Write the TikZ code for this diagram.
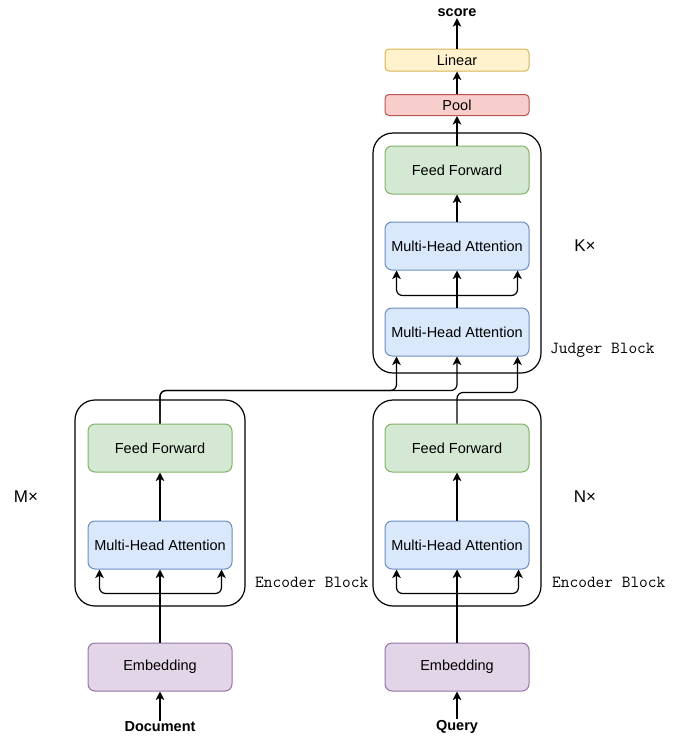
\documentclass[tikz,border=0pt]{standalone}
\usepackage{fontspec}
\setmainfont{Liberation Sans}
\usetikzlibrary{arrows.meta,calc}
\definecolor{gfill}{HTML}{D5E8D4}\definecolor{gline}{HTML}{82B366}
\definecolor{bfill}{HTML}{DAE8FC}\definecolor{bline}{HTML}{6C8EBF}
\definecolor{pfill}{HTML}{E1D5E7}\definecolor{pline}{HTML}{9673A6}
\definecolor{rfill}{HTML}{F8CECC}\definecolor{rline}{HTML}{B85450}
\definecolor{yfill}{HTML}{FFF2CC}\definecolor{yline}{HTML}{D6B656}
\tikzset{
  txt/.style={font=\fontsize{14.5}{16}\selectfont},
  blk/.style={txt,draw,line width=1pt,rounded corners=7pt,minimum width=144pt,minimum height=48pt,inner sep=0pt},
  ffbox/.style={blk,fill=gfill,draw=gline},
  mhabox/.style={blk,fill=bfill,draw=bline},
  embbox/.style={blk,fill=pfill,draw=pline},
  thinbox/.style={txt,draw,line width=1pt,rounded corners=4pt,minimum width=144pt,inner sep=0pt},
  poolbox/.style={thinbox,fill=rfill,draw=rline,minimum height=21pt},
  linbox/.style={thinbox,fill=yfill,draw=yline,minimum height=22pt},
  outer/.style={draw,line width=1.2pt,rounded corners=20pt,inner sep=0pt},
  arr/.style={line width=1.2pt,-{Stealth[length=8.5pt,width=8.5pt,inset=2.2pt]}},
  io/.style={font=\fontsize{14.5}{16}\selectfont\bfseries,inner sep=1pt},
  blabel/.style={font=\fontsize{16.9}{18}\selectfont\ttfamily,anchor=west,inner sep=0pt},
  times/.style={font=\fontsize{17}{19}\selectfont,inner sep=0pt},
}
\begin{document}
\begin{tikzpicture}[x=1pt,y=-1pt]
\useasboundingbox (0,0) rectangle (676,736);
% outer blocks
\node[outer,minimum width=170pt,minimum height=206pt] (lenc) at (160,503) {};
\node[outer,minimum width=168pt,minimum height=206pt] (renc) at (457,503) {};
\node[outer,minimum width=168pt,minimum height=240pt] (jud) at (457,253) {};
% left encoder
\node[ffbox] (lff) at (160,448) {Feed Forward};
\node[mhabox] (lmha) at (160,545) {Multi-Head Attention};
\node[embbox] (lemb) at (160,667) {Embedding};
\node[io] (doc) at (160,727) {Document};
% right encoder
\node[ffbox] (rff) at (457,448) {Feed Forward};
\node[mhabox] (rmha) at (457,545) {Multi-Head Attention};
\node[embbox] (remb) at (457,667) {Embedding};
\node[io] (query) at (457,727) {Query};
% judger
\node[ffbox] (jff) at (457,170) {Feed Forward};
\node[mhabox] (jmhb) at (457,246) {Multi-Head Attention};
\node[mhabox] (jmha) at (457,332) {Multi-Head Attention};
\node[poolbox] (pool) at (457,105) {Pool};
\node[linbox] (lin) at (457,60) {Linear};
\node[io] (score) at (457,13) {score};
% labels
\node[times] (mx) at (26,497) {M×};
\node[times] (nx) at (585,497) {N×};
\node[times] (kx) at (585,246) {K×};
\node[blabel] (lbl1) at (255,582) {Encoder Block};
\node[blabel] (lbl2) at (552,582) {Encoder Block};
\node[blabel] (lbl3) at (550,350) {Judger Block};
% left encoder connectors
\draw[arr] (doc.north) -- (lemb.south);
\draw[arr] (lemb.north) -- (lmha.south);
\draw[arr,rounded corners=6pt] ($(lmha.south)+(0,24)$) -| ($(lmha.south west)+(12,0)$);
\draw[arr,rounded corners=6pt] ($(lmha.south)+(0,24)$) -| ($(lmha.south east)+(-11,0)$);
\draw[arr] (lmha.north) -- (lff.south);
% right encoder connectors
\draw[arr] (query.north) -- (remb.south);
\draw[arr] (remb.north) -- (rmha.south);
\draw[arr,rounded corners=6pt] ($(rmha.south)+(0,24)$) -| ($(rmha.south west)+(12,0)$);
\draw[arr,rounded corners=6pt] ($(rmha.south)+(0,24)$) -| ($(rmha.south east)+(-11,0)$);
\draw[arr] (rmha.north) -- (rff.south);
% encoders to judger
\draw[arr,rounded corners=6pt] (lff.north) |- ($(jmha.south west)+(12,34)$) -- ($(jmha.south west)+(12,0)$);
\draw[arr,rounded corners=6pt] (lff.north) |- ($(jmha.south)+(0,34)$) -- (jmha.south);
\draw[arr,rounded corners=6pt] (rff.north) |- ($(jmha.south east)+(-12,36)$) -- ($(jmha.south east)+(-12,0)$);
% judger internals
\draw[arr] (jmha.north) -- (jmhb.south);
\draw[arr,rounded corners=6pt] ($(jmha.north)+(0,-12)$) -| ($(jmhb.south west)+(12,0)$);
\draw[arr,rounded corners=6pt] ($(jmha.north)+(0,-12)$) -| ($(jmhb.south east)+(-12,0)$);
\draw[arr] (jmhb.north) -- (jff.south);
\draw[arr] (jff.north) -- (pool.south);
\draw[arr] (pool.north) -- (lin.south);
\draw[arr] (lin.north) -- (score.south);
\end{tikzpicture}
\end{document}
